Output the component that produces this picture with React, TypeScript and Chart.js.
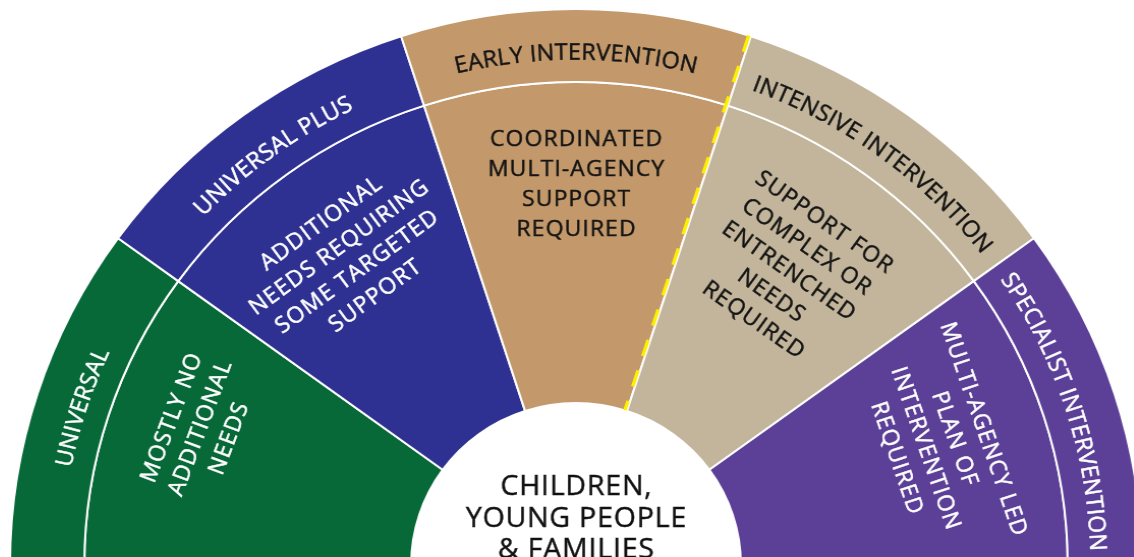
import React, { useEffect, useRef } from 'react';
import { Chart, registerables } from 'chart.js';

Chart.register(...registerables);

// ---------- data ----------
const segmentNames = ['Universal', 'Universal Plus', 'Early Intervention', 'Intensive Intervention', 'Specialist Intervention'];
const segmentShares = [1, 1, 1, 1, 1];
const ringLabels = ['UNIVERSAL', 'UNIVERSAL PLUS', 'EARLY INTERVENTION', 'INTENSIVE INTERVENTION', 'SPECIALIST INTERVENTION'];
const needLabels = [
  ['MOSTLY NO', 'ADDITIONAL', 'NEEDS'],
  ['ADDITIONAL', 'NEEDS REQUIRING', 'SOME TARGETED', 'SUPPORT'],
  ['COORDINATED', 'MULTI-AGENCY', 'SUPPORT', 'REQUIRED'],
  ['SUPPORT FOR', 'COMPLEX OR', 'ENTRENCHED', 'NEEDS', 'REQUIRED'],
  ['MULTI-AGENCY LED', 'PLAN OF', 'INTERVENTION', 'REQUIRED'],
];
const centerLines = ['CHILDREN,', 'YOUNG PEOPLE', '& FAMILIES'];

// ---------- styles / layout ----------
const segmentColors = ['#076838', '#2E3192', '#C3996B', '#C2B59B', '#5C4097'];
const textColors = ['#ffffff', '#ffffff', '#141414', '#141414', '#ffffff'];
const needRadius = [395, 380, 382, 362, 379];
const needAngleShift = [2.3, -0.3, 0, -0.6, -0.8];
const FONT = '"Open Sans", "Noto Sans", sans-serif';
const SIZE = 1114;
const CENTER_X = 576;
const CENTER_Y = 565;

const hiddenHalf = segmentShares.reduce((a, b) => a + b, 0);

function drawArcText(ctx: CanvasRenderingContext2D, text: string, cx: number, cy: number, r: number, mid: number, size: number, color: string, ls: number) {
  ctx.save();
  ctx.font = `${size}px ${FONT}`;
  (ctx as any).letterSpacing = '0px';
  ctx.fillStyle = color;
  ctx.strokeStyle = color;
  ctx.lineWidth = 0.45;
  ctx.textAlign = 'center';
  ctx.textBaseline = 'alphabetic';
  const chars = [...text];
  const widths: number[] = [];
  let prev = 0;
  for (let i = 0; i < chars.length; i++) {
    const w = ctx.measureText(chars.slice(0, i + 1).join('')).width;
    widths.push(w - prev);
    prev = w;
  }
  const total = prev + ls * (chars.length - 1);
  let pos = 0;
  const start = mid - total / (2 * r);
  const capH = size * 0.714;
  chars.forEach((ch, i) => {
    const a = start + (pos + widths[i] / 2) / r;
    pos += widths[i] + ls;
    ctx.save();
    ctx.translate(cx + r * Math.cos(a), cy + r * Math.sin(a));
    ctx.rotate(a + Math.PI / 2);
    ctx.fillText(ch, 0, capH / 2);
    ctx.strokeText(ch, 0, capH / 2);
    ctx.restore();
  });
  ctx.restore();
}

const textPlugin = {
  id: 'ringText',
  afterDatasetsDraw(chart: any) {
    const ctx: CanvasRenderingContext2D = chart.ctx;
    const outer = chart.getDatasetMeta(0);
    const inner = chart.getDatasetMeta(1);
    if (!outer.data.length || !inner.data.length) return;
    const cx = outer.data[0].x;
    const cy = outer.data[0].y;

    // yellow dashed boundary between early and intensive intervention
    const arc3 = outer.data[3];
    const ang = arc3.startAngle;
    const r0 = inner.data[3].innerRadius;
    const r1 = arc3.outerRadius;
    const px = Math.sin(ang) * 2.2;
    const py = -Math.cos(ang) * 2.2;
    ctx.save();
    ctx.strokeStyle = '#FFEE00';
    ctx.lineWidth = 3.4;
    ctx.setLineDash([17, 15]);
    ctx.beginPath();
    ctx.moveTo(cx + r1 * Math.cos(ang) + px, cy + r1 * Math.sin(ang) + py);
    ctx.lineTo(cx + r0 * Math.cos(ang) + px, cy + r0 * Math.sin(ang) + py);
    ctx.stroke();
    ctx.restore();

    // outer ring labels (curved)
    ringLabels.forEach((label, i) => {
      const el = outer.data[i];
      const mid = (el.startAngle + el.endAngle) / 2;
      const rMid = (el.innerRadius + el.outerRadius) / 2 - 6;
      drawArcText(ctx, label, cx, cy, rMid, mid, 23, textColors[i], 0.4);
    });

    // inner labels
    needLabels.forEach((lines, i) => {
      const el = inner.data[i];
      const a = (el.startAngle + el.endAngle) / 2 + (needAngleShift[i] * Math.PI) / 180;
      const r = needRadius[i];
      const size = 22.5;
      const lh = 30;
      const capH = size * 0.714;
      ctx.save();
      ctx.font = `${size}px ${FONT}`;
      (ctx as any).letterSpacing = '1.1px';
      ctx.fillStyle = textColors[i];
      ctx.strokeStyle = textColors[i];
      ctx.lineWidth = 0.45;
      ctx.textAlign = 'center';
      ctx.textBaseline = 'alphabetic';
      ctx.translate(cx + r * Math.cos(a), cy + r * Math.sin(a));
      ctx.rotate(a + Math.PI / 2);
      lines.forEach((line, j) => {
        const yy = (j - (lines.length - 1) / 2) * lh + capH / 2;
        ctx.fillText(line, 0.6, yy);
        ctx.strokeText(line, 0.6, yy);
      });
      ctx.restore();
    });

    // centre label
    ctx.save();
    ctx.font = `28px ${FONT}`;
    (ctx as any).letterSpacing = '0.8px';
    ctx.fillStyle = '#111111';
    ctx.strokeStyle = '#111111';
    ctx.lineWidth = 0.4;
    ctx.textAlign = 'center';
    ctx.textBaseline = 'alphabetic';
    centerLines.forEach((line, j) => {
      const yy = cy - 7 - (centerLines.length - 1 - j) * 31.5;
      ctx.fillText(line, cx + 0.4, yy);
      ctx.strokeText(line, cx + 0.4, yy);
    });
    ctx.restore();
  },
};

export default function App() {
  const ref = useRef<HTMLCanvasElement | null>(null);
  useEffect(() => {
    if (!ref.current) return;
    const bg = [...segmentColors, 'rgba(0,0,0,0)'];
    const bd = [...segmentShares.map(() => '#ffffff'), 'rgba(0,0,0,0)'];
    const chart = new Chart(ref.current, {
      type: 'doughnut',
      data: {
        labels: [...segmentNames, ''],
        datasets: [
          { data: [...segmentShares, hiddenHalf], backgroundColor: bg, borderColor: bd, borderWidth: 2, weight: 73 } as any,
          { data: [...segmentShares, hiddenHalf], backgroundColor: bg, borderColor: bd, borderWidth: 2, weight: 321 } as any,
        ],
      },
      options: {
        animation: false,
        responsive: true,
        maintainAspectRatio: false,
        rotation: -90,
        circumference: 360,
        cutout: 162,
        events: [],
        layout: { padding: 0 },
        plugins: { legend: { display: false }, tooltip: { enabled: false } },
      } as any,
      plugins: [textPlugin],
    });
    return () => chart.destroy();
  }, []);
  return (
    <div style={{ position: 'fixed', left: 0, top: 0, width: '100vw', height: '100vh', overflow: 'hidden', background: '#ffffff' }}>
      <div
        style={{
          position: 'absolute',
          left: CENTER_X - SIZE / 2,
          top: CENTER_Y - SIZE / 2,
          width: SIZE,
          height: SIZE,
          transform: 'scaleX(1.018)',
          transformOrigin: `${SIZE / 2}px ${SIZE / 2}px`,
        }}
      >
        <canvas ref={ref} />
      </div>
    </div>
  );
}
